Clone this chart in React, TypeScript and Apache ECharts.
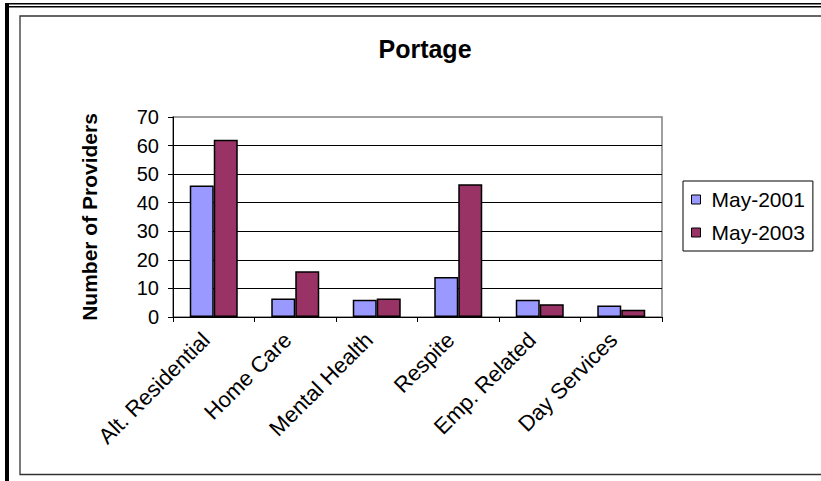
import React, { useEffect, useRef } from "react";
import * as echarts from "echarts";

// Provider counts by service type, Portage county
const categories = [
  "Alt. Residential",
  "Home Care",
  "Mental Health",
  "Respite",
  "Emp. Related",
  "Day Services",
];
const may2001 = [46, 6.5, 6, 14, 6, 4];
const may2003 = [62, 16, 6.5, 46.5, 4.5, 2.5];
const seriesNames = ["May-2001", "May-2003"];
const yTicks = { min: 0, max: 70, interval: 10 };

const FONT = "'Liberation Sans', Arial, Helvetica, sans-serif";

export default function App() {
  const ref = useRef<HTMLDivElement>(null);

  useEffect(() => {
    if (!ref.current) return;
    const chart = echarts.init(ref.current, undefined, { renderer: "svg" });
    chart.setOption({
      animation: false,
      backgroundColor: "#fff",
      title: {
        text: "Portage",
        left: 420,
        textAlign: "center",
        top: 31,
        textStyle: { fontFamily: FONT, fontSize: 25, fontWeight: "bold", color: "#000" },
      },
      legend: {
        orient: "vertical",
        left: 683,
        top: 181,
        padding: [8, 8, 8, 8],
        itemGap: 12,
        itemWidth: 9,
        itemHeight: 9,
        icon: "rect",
        borderColor: "#000",
        borderWidth: 1,
        itemStyle: { borderColor: "#000", borderWidth: 1 },
        textStyle: { fontFamily: FONT, fontSize: 21, color: "#000", padding: [0, 0, 0, 6] },
        data: seriesNames,
      },
      grid: {
        left: 173,
        top: 117,
        right: 159,
        bottom: 164,
        show: true,
        borderColor: "#808080",
        borderWidth: 1.5,
        containLabel: false,
      },
      xAxis: {
        type: "category",
        data: categories,
        axisLine: { lineStyle: { color: "#000", width: 1 } },
        axisTick: { show: true, length: 5, lineStyle: { color: "#000" } },
        axisLabel: {
          interval: 0,
          rotate: 45,
          margin: 27,
          verticalAlign: "bottom",
          fontFamily: FONT,
          fontSize: 22,
          color: "#000",
        },
      },
      yAxis: {
        type: "value",
        min: yTicks.min,
        max: yTicks.max,
        interval: yTicks.interval,
        name: "Number of Providers",
        nameLocation: "middle",
        nameRotate: 90,
        nameGap: 73,
        nameTextStyle: { fontFamily: FONT, fontSize: 21, fontWeight: "bold", color: "#000" },
        axisLine: { show: true, lineStyle: { color: "#000", width: 1 } },
        axisTick: { show: true, length: 5, lineStyle: { color: "#000" } },
        axisLabel: { margin: 14, fontFamily: FONT, fontSize: 20, color: "#000" },
        splitLine: {
          show: true,
          showMinLine: false,
          showMaxLine: false,
          lineStyle: { color: "#000", width: 1 },
        },
      },
      graphic: [
        { type: "line", shape: { x1: 5, y1: 3.75, x2: 821, y2: 3.75 }, style: { stroke: "#000", lineWidth: 1.5 } },
        { type: "line", shape: { x1: 5, y1: 6.75, x2: 821, y2: 6.75 }, style: { stroke: "#000", lineWidth: 1.5 } },
        { type: "rect", shape: { x: 5, y: 3, width: 4, height: 478 }, style: { fill: "#000" } },
        {
          type: "rect",
          shape: { x: 20, y: 16, width: 820, height: 458.5 },
          style: { fill: "none", stroke: "#333", lineWidth: 1.3 },
        },
      ],
      series: [
        {
          name: seriesNames[0],
          type: "bar",
          data: may2001,
          barWidth: 24,
          barGap: "0%",
          itemStyle: { color: "#9999FF", borderColor: "#000", borderWidth: 1.5 },
        },
        {
          name: seriesNames[1],
          type: "bar",
          data: may2003,
          barWidth: 24,
          barGap: "0%",
          itemStyle: { color: "#993366", borderColor: "#000", borderWidth: 1.5 },
        },
      ],
    });
    return () => chart.dispose();
  }, []);

  return (
    <div
      ref={ref}
      style={{ position: "absolute", left: 0, top: 0, width: 821, height: 481 }}
    />
  );
}
